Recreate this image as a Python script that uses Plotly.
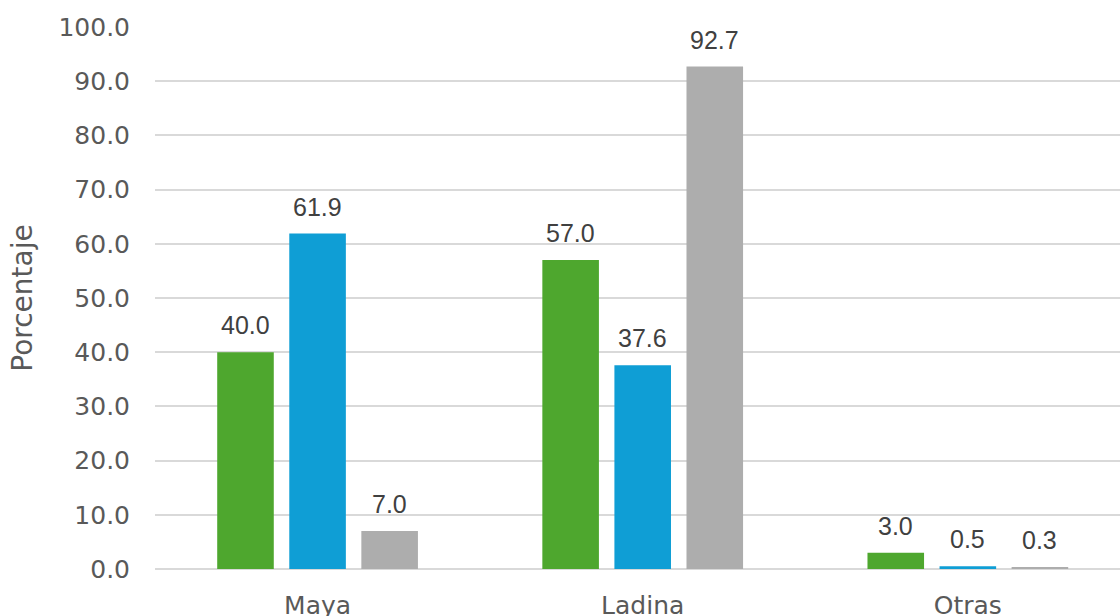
import plotly.graph_objects as go

categories = ["Maya", "Ladina", "Otras"]
series_names = ["Serie 1", "Serie 2", "Serie 3"]
serie_1 = [40.0, 57.0, 3.0]
serie_2 = [61.9, 37.6, 0.5]
serie_3 = [7.0, 92.7, 0.3]
colors = ["#4EA72E", "#0F9ED5", "#ADADAD"]
y_ticks = [0, 10, 20, 30, 40, 50, 60, 70, 80, 90, 100]

all_series = [serie_1, serie_2, serie_3]

fig = go.Figure()
for name, vals, col in zip(series_names, all_series, colors):
    fig.add_trace(go.Bar(name=name, x=categories, y=vals, marker=dict(color=col, line=dict(width=0))))

slot_px = 72
for i, vals in enumerate(all_series):
    for cat, v in zip(categories, vals):
        fig.add_annotation(x=cat, y=v, text=f"{v:.1f}", showarrow=False,
                           xshift=(i - 1) * slot_px, yshift=27, yanchor="middle",
                           font=dict(family="Liberation Sans, Arial", size=25, color="#404040"))

fig.update_layout(
    width=1120, height=616,
    margin=dict(l=155, r=0, t=27, b=47),
    barmode="group", bargap=0.335, bargroupgap=0.215,
    plot_bgcolor="white", paper_bgcolor="white",
    showlegend=False,
    font=dict(family="DejaVu Sans", color="#595959", size=25),
)
fig.update_xaxes(range=[-0.5, 2.468], showgrid=False, showline=False, ticks="",
                 automargin=False, ticklabelstandoff=19,
                 tickfont=dict(family="DejaVu Sans", size=25, color="#595959"))
fig.update_yaxes(range=[0, 100], tickvals=y_ticks, ticktext=[f"{t:.1f}" for t in y_ticks],
                 showgrid=True, gridcolor="#D9D9D9", gridwidth=2, zeroline=True,
                 zerolinecolor="#D9D9D9", zerolinewidth=2, ticks="",
                 automargin=False, ticklabelstandoff=24,
                 tickfont=dict(family="DejaVu Sans", size=25, color="#595959"),
                 title=dict(text="Porcentaje", font=dict(family="DejaVu Sans", size=28, color="#595959"), standoff=17))

fig.write_html("out.html", config={"displayModeBar": False},
               post_script="document.body.style.margin='0';document.body.style.overflow='hidden';")
